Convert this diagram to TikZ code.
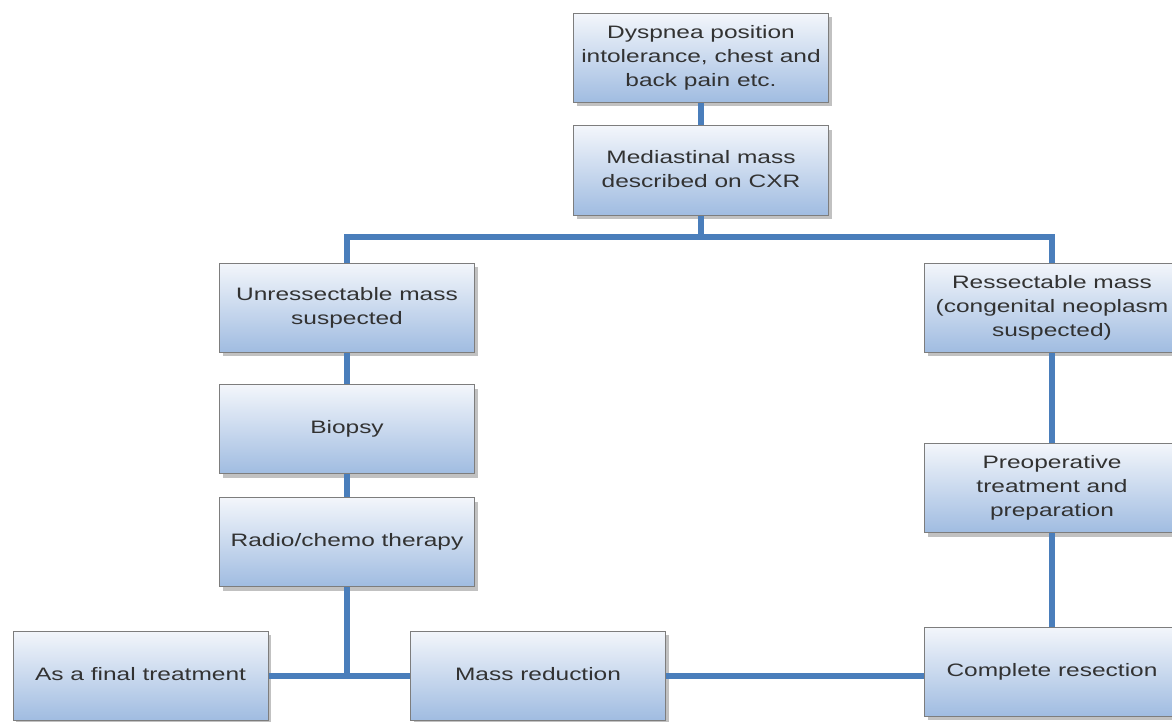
\documentclass[tikz,border=0pt]{standalone}
\usepackage{graphicx}
\usepackage{fontspec}
\setmainfont{Liberation Sans}
\usetikzlibrary{shadows}

\definecolor{linkblue}{RGB}{74,126,187}
\definecolor{boxtop}{RGB}{243,246,251}
\definecolor{boxbottom}{RGB}{160,188,225}
\definecolor{boxedge}{RGB}{125,125,125}
\definecolor{boxtext}{RGB}{50,50,50}

\newcommand{\widetext}[1]{\scalebox{1.36}[1]{\begin{tabular}{@{}c@{}}#1\end{tabular}}}

\begin{document}
\begin{tikzpicture}[
        x=0.5pt, y=-0.5pt,
        flow_box/.style={draw=boxedge, line width=0.5pt, top color=boxtop, bottom color=boxbottom,
            minimum width=127.5pt, minimum height=44.5pt, inner sep=0pt, text=boxtext,
            font=\fontsize{9}{12}\selectfont,
            drop shadow={shadow xshift=1.5pt, shadow yshift=-2pt, opacity=0.35, fill=black!70}},
        link/.style={draw=linkblue, line width=3pt}
    ]
        \useasboundingbox (0,0) rectangle (1172,722);

        % Boxes
        \node[flow_box] (symptoms) at (701,58) {\widetext{Dyspnea position\\intolerance, chest and\\back pain etc.}};
        \node[flow_box] (cxr) at (701,170.5) {\widetext{Mediastinal mass\\described on CXR}};
        \node[flow_box] (unres) at (347,307.5) {\widetext{Unressectable mass\\suspected}};
        \node[flow_box] (res) at (1052,307.5) {\widetext{Ressectable mass\\(congenital neoplasm\\suspected)}};
        \node[flow_box] (biopsy) at (347,429) {\widetext{Biopsy}};
        \node[flow_box] (radio) at (347,542) {\widetext{Radio/chemo therapy}};
        \node[flow_box] (final) at (140.5,675.5) {\widetext{As a final treatment}};
        \node[flow_box] (reduce) at (538,675.5) {\widetext{Mass reduction}};
        \node[flow_box] (preop) at (1052,488) {\widetext{Preoperative\\treatment and\\preparation}};
        \node[flow_box] (resect) at (1052,671.5) {\widetext{Complete resection}};

        % Links
        \coordinate (split) at (701,237);
        \draw[link] (symptoms.south) -- (cxr.north);
        \draw[link] (cxr.south) -- (split);
        \draw[link] (unres.north) |- (split) -| (res.north);
        \draw[link] (unres.south) -- (biopsy.north);
        \draw[link] (biopsy.south) -- (radio.north);
        \draw[link] (final.east) -- (reduce.west);
        \draw[link] (radio.south) -- (radio.south |- final.east);
        \draw[link] (res.south) -- (preop.north);
        \draw[link] (preop.south) -- (resect.north);
        \draw[link] (reduce.east) -- (resect.west |- reduce.east);
    \end{tikzpicture}
\end{document}
